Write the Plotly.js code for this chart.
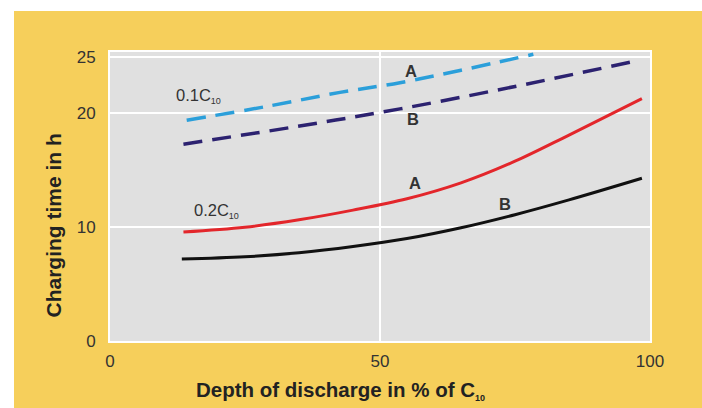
<!DOCTYPE html>
<html><head><meta charset="utf-8">
<script src="https://cdn.plot.ly/plotly-3.0.1.min.js"></script>
<style>html,body{margin:0;padding:0;background:#fff;width:702px;height:408px;overflow:hidden}
#chart{position:absolute;left:14px;top:11px;width:688px;height:397px}</style>
</head><body><div id="chart"></div>
<script>
// 0.1C10 curve A (light blue dashed)
const xA01 = [14.2, 30, 42.6, 53.7, 65, 78.4];
const yA01 = [19.4, 20.7, 21.85, 22.7, 23.8, 25.2];
// 0.1C10 curve B (navy dashed)
const xB01 = [13.6, 33.9, 53.7, 75.3, 96.3];
const yB01 = [17.3, 18.8, 20.4, 22.4, 24.5];
// 0.2C10 curve A (red)
const xA02 = [13.6, 25, 35, 45, 55, 65, 75, 85, 98.5];
const yA02 = [9.58, 10.0, 10.65, 11.5, 12.5, 13.9, 15.8, 18.1, 21.3];
// 0.2C10 curve B (black)
const xB02 = [13.3, 25, 35, 45, 55, 65, 75, 85, 98.5];
const yB02 = [7.2, 7.4, 7.75, 8.3, 9.0, 9.95, 11.1, 12.4, 14.3];
const xTicks = [0, 50, 100];
const yTicks = [0, 10, 20, 25];
const SUB = '<sub><span style="font-size:9px">10</span></sub>';
const xTitle = 'Depth of discharge in % of C' + SUB;
const yTitle = 'Charging time in h';

const F = 'Liberation Sans, Arial, sans-serif';
function tr(x, y, color, dash, w){
  return {x:x, y:y, type:'scatter', mode:'lines', line:{color:color, width:w, dash:dash, shape:'spline', smoothing:1}, hoverinfo:'skip', showlegend:false};
}
const data = [
  tr(xA01, yA01, '#2b9fda', '19px,10px', 3.5),
  tr(xB01, yB01, '#2c2270', '19px,10px', 3.5),
  tr(xA02, yA02, '#e3262b', 'solid', 3),
  tr(xB02, yB02, '#111111', 'solid', 3)
];
function lab(x, y, t, bold){
  return {x:x, y:y, xref:'x', yref:'y', text: bold ? '<b>'+t+'</b>' : t, showarrow:false,
    font:{family:F, size:16.5, color:'#333'}, xanchor:'center', yanchor:'middle'};
}
const layout = {
  width:688, height:397,
  margin:{l:96, r:52, t:41, b:67},
  paper_bgcolor:'#f6cf5b', plot_bgcolor:'#e0e0e0',
  font:{family:F},
  xaxis:{range:[0,100], tickvals:xTicks, ticktext:xTicks.map(String), showgrid:true, gridcolor:'#ffffff', gridwidth:2,
    zeroline:false, showline:true, mirror:true, linecolor:'#ffffff', linewidth:2,
    ticks:'outside', ticklen:4, tickcolor:'rgba(0,0,0,0)', tickfont:{family:F, size:17, color:'#333'}},
  yaxis:{range:[0,25.4], tickvals:yTicks, ticktext:yTicks.map(String), showgrid:true, gridcolor:'#ffffff', gridwidth:2,
    zeroline:false, showline:true, mirror:true, linecolor:'#ffffff', linewidth:2,
    ticks:'outside', ticklen:9, tickcolor:'rgba(0,0,0,0)', tickfont:{family:F, size:17, color:'#333'}},
  annotations:[
    lab(16.3, 21.5, '0.1C' + SUB, false),
    lab(19.8, 11.4, '0.2C' + SUB, false),
    lab(55.7, 23.7, 'A', true),
    lab(56.2, 19.5, 'B', true),
    lab(56.5, 13.9, 'A', true),
    lab(73.1, 12.0, 'B', true),
    {xref:'paper', yref:'paper', x:(340-110)/540, y:-(390-341)/289, text:'<b>'+xTitle+'</b>', showarrow:false,
      font:{family:F, size:20.5, color:'#222'}, xanchor:'center', yanchor:'middle'},
    {xref:'paper', yref:'paper', x:-(110-52.5)/540, y:(341-226)/289, text:'<b>'+yTitle+'</b>', showarrow:false, textangle:-90,
      font:{family:F, size:21, color:'#222'}, xanchor:'center', yanchor:'middle'}
  ]
};
Plotly.newPlot('chart', data, layout, {displayModeBar:false, staticPlot:true});
</script></body></html>
